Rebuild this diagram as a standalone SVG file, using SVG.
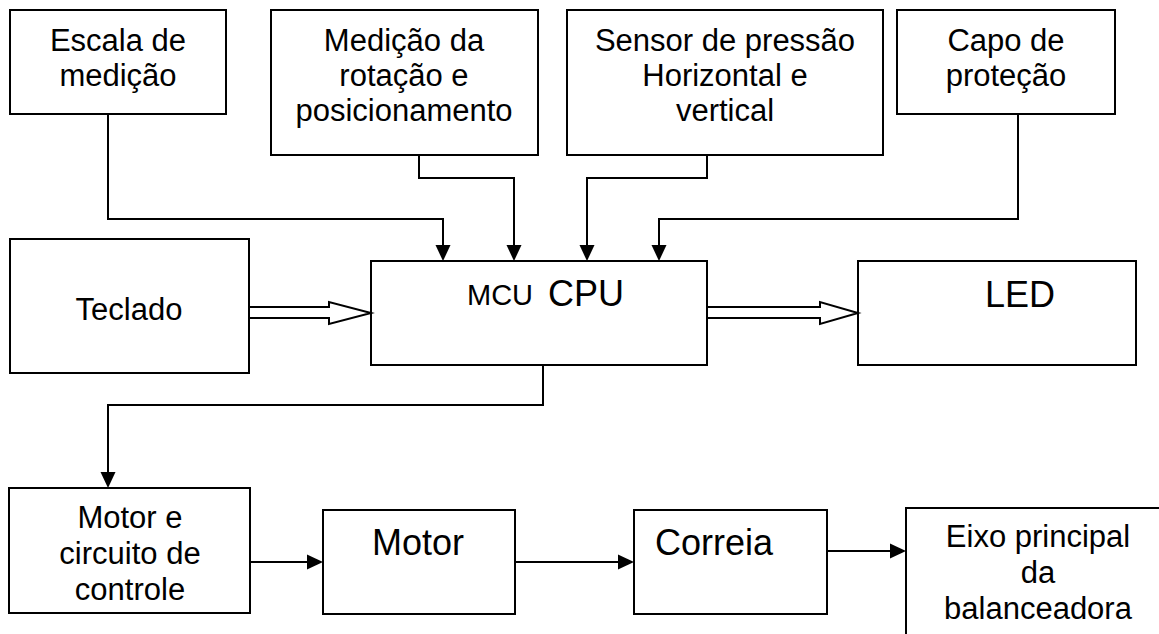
<svg xmlns="http://www.w3.org/2000/svg" width="1159" height="634" viewBox="0 0 1159 634">
  <style>
    .box { fill: #ffffff; stroke: #000000; stroke-width: 2; }
    .wire { fill: none; stroke: #000000; stroke-width: 2; }
    .bus { fill: #ffffff; stroke: #000000; stroke-width: 2; stroke-linejoin: miter; }
    text { font-family: "Liberation Sans", Arial, sans-serif; fill: #000000; }
    .t { font-size: 31px; text-anchor: middle; }
    .big { font-size: 36px; }
  </style>
  <defs>
    <marker id="arrow" markerUnits="userSpaceOnUse" markerWidth="16" markerHeight="16" refX="0" refY="7.5" orient="auto" viewBox="0 0 16 15">
      <path d="M0,0 L16,7.5 L0,15 z" fill="#000000"/>
    </marker>
  </defs>

  <rect width="1159" height="634" fill="#ffffff"/>

  <!-- input blocks -->
  <g id="escala">
    <rect class="box" x="10" y="10" width="216" height="104"/>
    <text class="t" x="118" y="51">Escala de</text>
    <text class="t" x="118" y="86">medição</text>
  </g>
  <g id="medicao">
    <rect class="box" x="271" y="10" width="267" height="145"/>
    <text class="t" x="404" y="51">Medição da</text>
    <text class="t" x="404" y="86">rotação e</text>
    <text class="t" x="404" y="121">posicionamento</text>
  </g>
  <g id="sensor">
    <rect class="box" x="567" y="10" width="316" height="145"/>
    <text class="t" x="725" y="51">Sensor de pressão</text>
    <text class="t" x="725" y="86">Horizontal e</text>
    <text class="t" x="725" y="121">vertical</text>
  </g>
  <g id="capo">
    <rect class="box" x="897" y="10" width="218" height="104"/>
    <text class="t" x="1006" y="51">Capo de</text>
    <text class="t" x="1006" y="86">proteção</text>
  </g>

  <!-- middle row -->
  <g id="teclado">
    <rect class="box" x="10" y="239" width="239" height="134"/>
    <text class="t" x="129" y="320">Teclado</text>
  </g>
  <g id="mcu">
    <rect class="box" x="371" y="261" width="336" height="104"/>
    <text x="467" y="305" font-size="29">MCU</text>
    <text class="big" x="548" y="306">CPU</text>
  </g>
  <g id="led">
    <rect class="box" x="858" y="261" width="278" height="104"/>
    <text class="big" x="1020" y="307" text-anchor="middle">LED</text>
  </g>

  <!-- drive chain -->
  <g id="motor-circuito">
    <rect class="box" x="9" y="488" width="241" height="125"/>
    <text class="t" x="130" y="528">Motor e</text>
    <text class="t" x="130" y="564">circuito de</text>
    <text class="t" x="130" y="600">controle</text>
  </g>
  <g id="motor">
    <rect class="box" x="323" y="510" width="192" height="104"/>
    <text class="big" x="372" y="555">Motor</text>
  </g>
  <g id="correia">
    <rect class="box" x="634" y="510" width="193" height="104"/>
    <text class="big" x="655" y="555">Correia</text>
  </g>
  <g id="eixo">
    <rect class="box" x="906" y="508" width="300" height="150"/>
    <text class="t" x="1038" y="547" font-size="32">Eixo principal</text>
    <text class="t" x="1038" y="583" font-size="32">da</text>
    <text class="t" x="1038" y="619" font-size="32">balanceadora</text>
  </g>

  <!-- connectors -->
  <g id="connectors">
    <path class="wire" d="M108 114 V219 H443 V245" marker-end="url(#arrow)"/>
    <path class="wire" d="M419 155 V178 H514 V245" marker-end="url(#arrow)"/>
    <path class="wire" d="M707 155 V178 H587 V245" marker-end="url(#arrow)"/>
    <path class="wire" d="M1018 114 V219 H659 V245" marker-end="url(#arrow)"/>
    <path class="wire" d="M543 365 V405 H108 V472" marker-end="url(#arrow)"/>
    <path class="wire" d="M250 562 H307" marker-end="url(#arrow)"/>
    <path class="wire" d="M515 562 H618" marker-end="url(#arrow)"/>
    <path class="wire" d="M827 551 H890" marker-end="url(#arrow)"/>
    <!-- hollow double-line bus arrows -->
    <path class="bus" d="M250 307 H329 V302 L371 313 L329 324 V318 H250"/>
    <path class="bus" d="M708 307 H820 V302 L858 313 L820 324 V318 H708"/>
  </g>
</svg>
